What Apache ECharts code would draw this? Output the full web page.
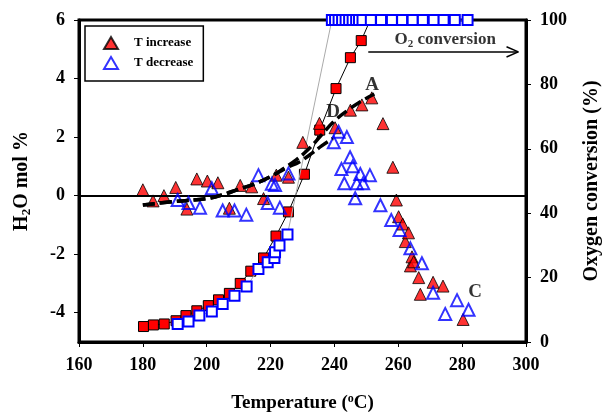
<!DOCTYPE html>
<html>
<head>
<meta charset="utf-8">
<script src="https://cdn.jsdelivr.net/npm/echarts@6/dist/echarts.min.js"></script>
<style>
html, body { margin: 0; padding: 0; background: #fff; }
#main { width: 604px; height: 412px; }
</style>
</head>
<body>
<div id="main"></div>
<script>
// H2O mol % (left axis) - triangles
const incT = [180, 183.2, 186.6, 190.3, 193.8, 196.9, 200.2, 203.5, 207.1, 210.5, 214.1, 217.8, 221.8, 225.6, 230.1, 235.3, 240.2, 245.0, 248.6, 251.7, 255.2, 258.3, 259.4, 260.1, 261.4, 262.2, 263.2, 263.8, 264.3, 264.8, 266.4, 266.9, 270.9, 274.0, 280.3];
const incH2O = [0.2, -0.18, 0.0, 0.28, -0.46, 0.57, 0.5, 0.44, -0.43, 0.35, 0.3, -0.1, 0.7, 0.63, 1.82, 2.47, 2.32, 2.92, 3.1, 3.34, 2.46, 0.97, -0.15, -0.72, -0.97, -1.57, -1.27, -2.4, -2.09, -2.26, -2.8, -3.37, -2.96, -3.09, -4.23];
const decT = [190.9, 194.3, 197.9, 201.6, 205.0, 208.7, 212.4, 216.2, 219.1, 220.4, 221.4, 222.9, 225.6, 239.8, 241.3, 242.2, 243.1, 243.9, 244.9, 245.7, 246.5, 247.0, 248.1, 249.0, 251.1, 254.4, 257.8, 260.4, 263.8, 267.4, 270.9, 274.7, 278.4, 282.0];
const decH2O = [-0.15, -0.25, -0.41, 0.25, -0.51, -0.51, -0.65, 0.7, -0.25, 0.41, 0.36, -0.41, 0.76, 1.82, 2.18, 0.91, 0.42, 2.0, 1.31, 1.0, -0.09, 0.42, 0.74, 0.42, 0.7, -0.33, -0.83, -1.17, -1.8, -2.31, -3.32, -4.04, -3.57, -3.9];

// Oxygen conversion % (right axis) - squares
const convIncT = [180.2, 183.3, 186.7, 190.4, 193.5, 196.9, 200.5, 203.7, 207.1, 210.5, 213.8, 217.8, 221.7, 225.6, 230.6, 235.4, 240.5, 245.0, 248.4, 251.2];
const convInc = [4.8, 5.3, 5.6, 6.6, 8.2, 9.7, 11.3, 13.1, 15.1, 18.2, 22.0, 26.1, 32.9, 40.4, 52.1, 65.8, 78.7, 88.3, 93.6, 100];
const convDecT = [190.9, 194.3, 197.7, 201.6, 205.0, 208.7, 212.5, 216.2, 219.1, 221.2, 221.4, 222.8, 225.3, 239.2, 240.2, 241.3, 242.4, 243.5, 244.6, 245.7, 246.8, 247.7, 248.8, 251.4, 254.6, 258.0, 261.2, 264.5, 267.7, 271.1, 274.2, 277.7, 281.7];
const convDec = [5.6, 6.4, 8.2, 9.5, 11.8, 14.4, 17.2, 22.7, 24.8, 26.1, 27.9, 30.0, 33.4, 100, 100, 100, 100, 100, 100, 100, 100, 100, 100, 100, 100, 100, 100, 100, 100, 100, 100, 100, 100];

// dashed trend curves
const fitAT = [180, 190, 200, 205, 210, 215, 220, 224, 228, 232, 236, 240, 244, 248, 252.5];
const fitA = [-0.32, -0.2, -0.1, 0.03, 0.22, 0.4, 0.65, 0.92, 1.22, 1.6, 2.08, 2.55, 2.9, 3.2, 3.47];
const fitDT = [180, 190, 200, 205, 210, 215, 220, 225, 229, 233, 236, 239.5];
const fitD = [-0.32, -0.2, -0.1, 0.03, 0.22, 0.4, 0.65, 0.95, 1.15, 1.45, 1.7, 1.95];

// labels
const xTicks = [160, 180, 200, 220, 240, 260, 280, 300];
const leftTicks = [-4, -2, 0, 2, 4, 6];
const noteT = [251.8, 239.6, 284.1];
const noteV = [3.78, 2.86, -3.29];
const noteText = ['A', 'D', 'C'];

const serif = '"Liberation Serif", "Times New Roman", serif';
const pairs = (xs, ys) => xs.map((x, i) => [x, ys[i]]);
const bold = { fontFamily: serif, fontWeight: 'bold', color: '#000' };

const chart = echarts.init(document.getElementById('main'));

const option = {
    animation: false,
    backgroundColor: '#fff',
    grid: {
        left: 79, right: 78, top: 20, bottom: 70,
        outerBoundsMode: 'none', containLabel: false,
        show: true, borderColor: '#000', borderWidth: 3
    },
    legend: {
        data: ['T increase', 'T decrease'],
        orient: 'vertical',
        left: 85,
        top: 26,
        padding: [10, 10, 11, 18],
        itemGap: 6,
        itemWidth: 14,
        itemHeight: 12,
        borderColor: '#000',
        borderWidth: 1.5,
        textStyle: Object.assign({ fontSize: 13, padding: [0, 0, 0, 11] }, bold)
    },
    xAxis: {
        type: 'value',
        min: xTicks[0],
        max: xTicks[xTicks.length - 1],
        interval: 20,
        axisLine: { onZero: false, lineStyle: { color: '#000', width: 3 } },
        axisTick: { length: 5, lineStyle: { color: '#000', width: 1 } },
        axisLabel: Object.assign({ fontSize: 18, margin: 14 }, bold),
        splitLine: { show: false },
        name: '{a|Temperature (}{s|o}{a|C)}',
        nameLocation: 'middle',
        nameGap: 51,
        nameTextStyle: {
            rich: {
                a: Object.assign({ fontSize: 19 }, bold),
                s: Object.assign({ fontSize: 12, verticalAlign: 'top', padding: [0, 0, 9, 0] }, bold)
            }
        }
    },
    yAxis: [
        {
            type: 'value',
            position: 'left',
            min: -5,
            max: 6,
            interval: 1,
            axisLine: { show: true, onZero: false, lineStyle: { color: '#000', width: 3 } },
            axisTick: { show: true, length: 5, customValues: leftTicks, lineStyle: { color: '#000', width: 1 } },
            axisLabel: Object.assign({ fontSize: 18, margin: 14, customValues: leftTicks }, bold),
            splitLine: { show: false },
            name: '{a|H}{s|2}{a|O mol %}',
            nameLocation: 'middle',
            nameRotate: 90,
            nameGap: 46,
            nameTextStyle: {
                rich: {
                    a: Object.assign({ fontSize: 20 }, bold),
                    s: Object.assign({ fontSize: 13, verticalAlign: 'bottom', padding: [9, 0, 0, 0] }, bold)
                }
            }
        },
        {
            type: 'value',
            position: 'right',
            min: 0,
            max: 100,
            interval: 20,
            axisLine: { show: true, onZero: false, lineStyle: { color: '#000', width: 3 } },
            axisTick: { show: true, length: 5, lineStyle: { color: '#000', width: 1 } },
            axisLabel: Object.assign({ fontSize: 18, margin: 14 }, bold),
            splitLine: { show: false },
            name: 'Oxygen conversion (%)',
            nameLocation: 'middle',
            nameRotate: 90,
            nameGap: 56,
            nameTextStyle: Object.assign({ fontSize: 20 }, bold)
        }
    ],
    series: [
        {
            name: 'O2 increase',
            type: 'line',
            yAxisIndex: 1,
            data: pairs(convIncT, convInc),
            symbol: 'rect',
            symbolSize: 10,
            itemStyle: { color: '#ff0000', borderColor: '#000', borderWidth: 1 },
            lineStyle: { color: '#000', width: 1 },
            z: 2
        },
        {
            name: 'O2 decrease',
            type: 'line',
            yAxisIndex: 1,
            data: pairs(convDecT, convDec),
            symbol: 'rect',
            symbolSize: 10,
            itemStyle: { color: '#fff', borderColor: '#0000ff', borderWidth: 2 },
            lineStyle: { color: '#aaaaaa', width: 1 },
            z: 3,
            markLine: {
                silent: true,
                symbol: ['none', 'none'],
                label: { show: false },
                lineStyle: { color: '#000', width: 1.5, type: 'solid' },
                data: [
                    [{ coord: [250.6, 90.1] }, { coord: [297.6, 90.1] }],
                    [{ coord: [293.9, 91.7] }, { coord: [297.6, 90.1] }],
                    [{ coord: [293.9, 88.5] }, { coord: [297.6, 90.1] }]
                ]
            }
        },
        {
            name: 'T increase',
            type: 'scatter',
            data: pairs(incT, incH2O),
            symbol: 'triangle',
            symbolSize: 12,
            itemStyle: { color: '#ff0000', borderColor: '#000', borderWidth: 1 },
            z: 4,
            markLine: {
                silent: true,
                symbol: ['none', 'none'],
                label: { show: false },
                lineStyle: { color: '#000', width: 2, type: 'solid' },
                data: [{ yAxis: 0 }]
            }
        },
        {
            name: 'T decrease',
            type: 'scatter',
            data: pairs(decT, decH2O),
            symbol: 'triangle',
            symbolSize: 12,
            itemStyle: { color: 'rgba(255,255,255,0)', borderColor: '#0000ff', borderWidth: 2 },
            z: 5
        },
        {
            name: 'fit A',
            type: 'line',
            data: pairs(fitAT, fitA),
            smooth: 0.4,
            showSymbol: false,
            lineStyle: { color: '#000', width: 3.5, type: [12, 5] },
            z: 6
        },
        {
            name: 'fit D',
            type: 'line',
            data: pairs(fitDT, fitD),
            smooth: 0.4,
            showSymbol: false,
            lineStyle: { color: '#000', width: 3.5, type: [12, 5] },
            z: 6
        },
        {
            name: 'notes',
            type: 'scatter',
            data: noteT.map((t, i) => [t, noteV[i], noteText[i]]),
            symbolSize: 1,
            itemStyle: { color: 'rgba(0,0,0,0)' },
            label: Object.assign({ show: true, position: 'inside', fontSize: 19, formatter: p => p.value[2] }, bold),
            z: 7
        },
        {
            name: 'o2 note',
            type: 'scatter',
            yAxisIndex: 1,
            data: [[274.7, 93.8]],
            symbolSize: 1,
            itemStyle: { color: 'rgba(0,0,0,0)' },
            label: {
                show: true,
                position: 'inside',
                formatter: '{a|O}{s|2}{a| conversion}',
                rich: {
                    a: Object.assign({ fontSize: 17 }, bold),
                    s: Object.assign({ fontSize: 11, verticalAlign: 'bottom', padding: [8, 0, 0, 0] }, bold)
                }
            },
            z: 7
        }
    ]
};

chart.setOption(option);
</script>
</body>
</html>
